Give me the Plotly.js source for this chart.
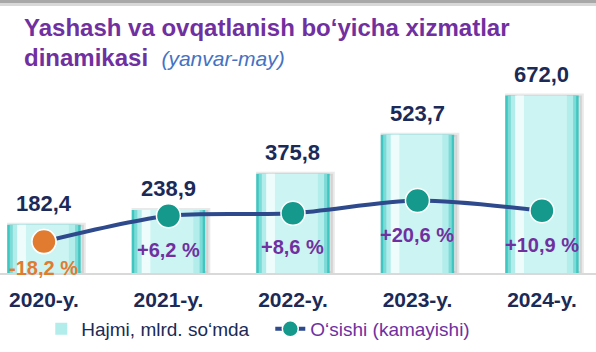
<!DOCTYPE html>
<html>
<head>
<meta charset="utf-8">
<script src="https://cdn.plot.ly/plotly-3.0.1.min.js"></script>
<style>html,body{margin:0;padding:0;background:#fff;}#chart{width:596px;height:352px;}</style>
</head>
<body>
<div id="chart"></div>
<script>
// ---- data ----
const years = ['2020-y.', '2021-y.', '2022-y.', '2023-y.', '2024-y.'];
const volume = [182.4, 238.9, 375.8, 523.7, 672.0];        // Hajmi, mlrd. so'mda
const growth = [-18.2, 6.2, 8.6, 20.6, 10.9];             // O'sishi (kamayishi), %
const volumeName = 'Hajmi, mlrd. so‘mda';
const growthName = 'O‘sishi (kamayishi)';
const titleMain = 'Yashash va ovqatlanish bo‘yicha xizmatlar';
const titleSecond = 'dinamikasi';
const titlePeriod = '(yanvar-may)';

// ---- styles ----
const FONT = 'Liberation Sans, Arial, sans-serif';
const NAVY = '#1B2A57';
const PURPLE = '#7030A0';
const ORANGE = '#E07B30';
const TEAL = '#14998C';
const LINE = '#2E4A8C';

const fmt = v => v.toFixed(1).replace('.', ',');
const fmtPct = v => (v > 0 ? '+' : '') + v.toFixed(1).replace('.', ',') + ' %';

const BW = 0.59;
function layer(width, color, offset, extra) {
  return Object.assign({
    type: 'bar', x: years, y: volume, width: width,
    offset: (offset === undefined ? -width / 2 : offset),
    marker: {color: color, line: {width: 0}},
    hoverinfo: 'skip', showlegend: false, yaxis: 'y'
  }, extra || {});
}

const traces = [
  // soft shadow
  layer(BW + 0.01, 'rgba(110,110,110,0.18)', -BW / 2 + 0.015,
        {marker: {color: 'rgba(110,110,110,0.18)', line: {color: 'rgba(120,120,120,0.16)', width: 4}}}),
  // cylinder-like gradient layers
  layer(BW, '#3FC6C1'),
  layer(0.55, '#7DDBD7'),
  layer(0.50, '#B2EDEB', undefined, {showlegend: true, name: '<span style="color:' + NAVY + '">' + volumeName + '</span>'}),
  layer(0.40, '#CBF4F2'),
  layer(0.07, '#EEFDFC', -0.215),
  {
    type: 'scatter', mode: 'lines+markers', x: years, y: growth, yaxis: 'y2',
    name: '<span style="color:' + PURPLE + '">' + growthName + '</span>',
    line: {color: LINE, width: 4, shape: 'spline', smoothing: 0.8},
    marker: {size: 24, color: TEAL, line: {color: '#FFFFFF', width: 1.5}},
    hoverinfo: 'skip'
  },
  {
    // decline point highlighted in orange
    type: 'scatter', mode: 'markers', x: years, y: growth.map(v => v < 0 ? v : null), yaxis: 'y2',
    marker: {size: 24, color: ORANGE, line: {color: '#FFFFFF', width: 1.5}},
    showlegend: false, hoverinfo: 'skip'
  }
];

const annotations = [];
years.forEach((yr, i) => {
  annotations.push({
    x: yr, y: volume[i], xref: 'x', yref: 'y', text: '<b>' + fmt(volume[i]) + '</b>',
    showarrow: false, yanchor: 'middle', yshift: 21,
    font: {family: FONT, size: 22, color: NAVY}
  });
  annotations.push({
    x: yr, y: growth[i], xref: 'x', yref: 'y2', text: '<b>' + fmtPct(growth[i]) + '</b>',
    showarrow: false, yanchor: 'middle', yshift: growth[i] < 0 ? -26 : -34,
    font: {family: FONT, size: 20, color: growth[i] < 0 ? ORANGE : PURPLE}
  });
});
// title as two positioned text lines
annotations.push({
  xref: 'paper', yref: 'paper', x: 22 / 596, y: (273 - 28) / 193, xanchor: 'left', yanchor: 'middle',
  showarrow: false, text: '<b>' + titleMain + '</b>', font: {family: FONT, size: 24, color: PURPLE}
});
annotations.push({
  xref: 'paper', yref: 'paper', x: 22 / 596, y: (273 - 57) / 193, xanchor: 'left', yanchor: 'middle',
  showarrow: false,
  text: '<b>' + titleSecond + '</b>  <i><span style="font-size:21px;color:#4472C4">' + titlePeriod + '</span></i>',
  font: {family: FONT, size: 24, color: PURPLE}
});

const layout = {
  width: 596, height: 352,
  margin: {l: 0, r: 0, t: 80, b: 79, pad: 0},
  paper_bgcolor: '#FFFFFF', plot_bgcolor: 'rgba(0,0,0,0)',
  barmode: 'overlay',
  font: {family: FONT, color: NAVY},
  xaxis: {
    type: 'category', range: [-0.353, 4.434], fixedrange: true,
    showgrid: false, zeroline: false, showline: true, linecolor: '#D9D9D9', linewidth: 2,
    ticks: '', ticklabelstandoff: 7,
    tickfont: {family: FONT, size: 21, color: NAVY, weight: 'bold'}
  },
  yaxis: {range: [0, 731], visible: false, fixedrange: true},
  yaxis2: {range: [-47.85, 134.5], overlaying: 'y', visible: false, fixedrange: true},
  legend: {
    orientation: 'h', x: 0.4535, xanchor: 'center', y: -0.29, yanchor: 'middle',
    font: {family: FONT, size: 19, color: NAVY}, bgcolor: 'rgba(0,0,0,0)',
    traceorder: 'normal', entrywidth: 184, entrywidthmode: 'pixels'
  },
  showlegend: true,
  annotations: annotations,
  shapes: [
    {type: 'rect', xref: 'paper', yref: 'paper', x0: 0, x1: 1, y0: (273 - 3) / 193, y1: 273 / 193,
     fillcolor: '#A8A8A8', line: {width: 0}, layer: 'above'},
    {type: 'rect', xref: 'paper', yref: 'paper', x0: 0, x1: 1, y0: (273 - 6) / 193, y1: (273 - 3) / 193,
     fillcolor: '#D8D8D8', line: {width: 0}, layer: 'above'}
  ]
};

Plotly.newPlot('chart', traces, layout, {displayModeBar: false, staticPlot: true});
</script>
</body>
</html>
